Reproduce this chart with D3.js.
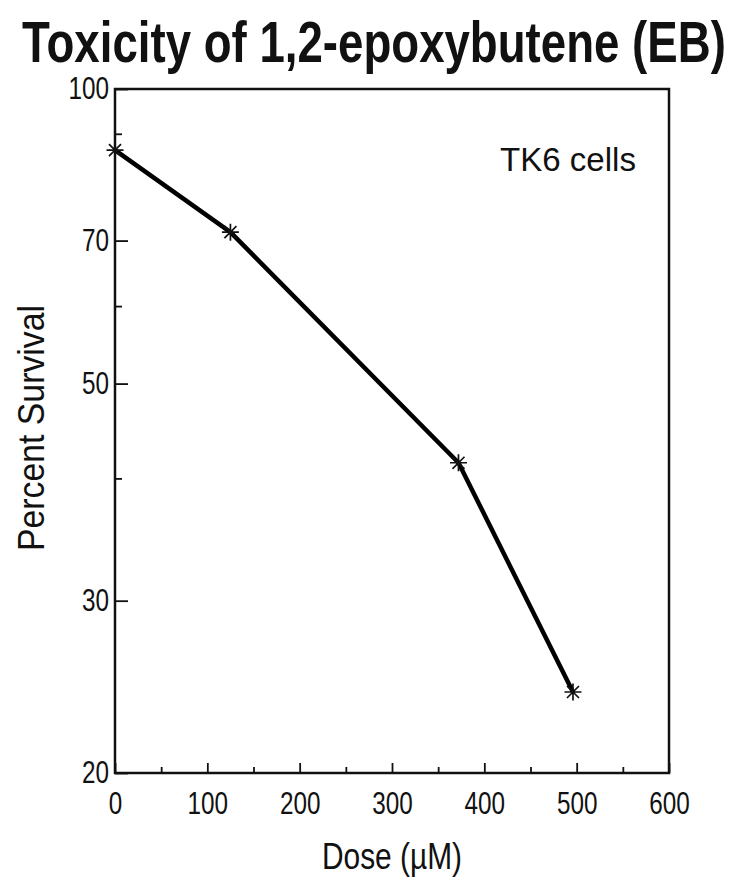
<!DOCTYPE html>
<html>
<head>
<meta charset="utf-8">
<script src="https://cdn.jsdelivr.net/npm/d3@7"></script>
<style>
  html, body { margin: 0; padding: 0; background: #fff; }
  svg { display: block; }
  .lbl { font-family: 'Liberation Sans', Arial, sans-serif; fill: #111; }
</style>
</head>
<body>
<svg id="chart" width="746" height="892"></svg>
<script>
const doses = [0, 125, 372, 496]
const survival = [86.6, 71.4, 41.5, 24.2]

const xTicks = [0, 100, 200, 300, 400, 500, 600]
const xMinorTicks = [50, 150, 250, 350, 450, 550]
const yTicks = [20, 30, 50, 70, 100]
const yMinorTicks = [40, 60, 90]

const svg = d3.select('#chart')
const plotLeft = 115
const plotRight = 669
const plotTop = 89
const plotBottom = 773

const x = d3.scaleLinear().domain([0, 600]).range([plotLeft, plotRight])
const y = d3.scaleLog().domain([20, 100]).range([plotBottom, plotTop])

// condensed look: squeeze each label to a fixed width per character
const squeeze = (sel, perChar) => sel
  .attr('textLength', function () { return this.textContent.length * perChar })
  .attr('lengthAdjust', 'spacingAndGlyphs')

// title, narrowed with a horizontal scale so its box stays inside the page
const title = svg.append('text')
  .attr('class', 'lbl')
  .attr('font-size', 58)
  .attr('font-weight', 'bold')
  .text('Toxicity of 1,2-epoxybutene (EB)')
const titleW = title.node().getComputedTextLength()
title.attr('transform', `translate(22,62) scale(${704 / titleW},1)`)

// frame
svg.append('rect')
  .attr('x', plotLeft)
  .attr('y', plotTop)
  .attr('width', plotRight - plotLeft)
  .attr('height', plotBottom - plotTop)
  .attr('fill', 'none')
  .attr('stroke', '#111')
  .attr('stroke-width', 2.5)

// x axis
const xAxis = svg.append('g')
  .attr('transform', `translate(0,${plotBottom})`)
  .call(d3.axisBottom(x).tickValues(xTicks).tickSize(-10).tickPadding(19).tickFormat(d3.format('d')))
xAxis.select('.domain').remove()
xAxis.selectAll('.tick line').attr('stroke', '#111').attr('stroke-width', 1.8)
xAxis.selectAll('.tick text').attr('class', 'lbl').attr('font-size', 31).attr('fill', '#111').call(squeeze, 13.5)

const xMinor = svg.append('g')
  .attr('transform', `translate(0,${plotBottom})`)
  .call(d3.axisBottom(x).tickValues(xMinorTicks).tickSize(-6).tickFormat(''))
xMinor.select('.domain').remove()
xMinor.selectAll('.tick line').attr('stroke', '#111').attr('stroke-width', 1.8)

// y axis
const yAxis = svg.append('g')
  .attr('transform', `translate(${plotLeft},0)`)
  .call(d3.axisLeft(y).tickValues(yTicks).tickSize(-13).tickPadding(6).tickFormat(d3.format('d')))
yAxis.select('.domain').remove()
yAxis.selectAll('.tick line').attr('stroke', '#111').attr('stroke-width', 1.8)
yAxis.selectAll('.tick text').attr('class', 'lbl').attr('font-size', 31).attr('fill', '#111').call(squeeze, 13.5)

const yMinor = svg.append('g')
  .attr('transform', `translate(${plotLeft},0)`)
  .call(d3.axisLeft(y).tickValues(yMinorTicks).tickSize(-7).tickFormat(''))
yMinor.select('.domain').remove()
yMinor.selectAll('.tick line').attr('stroke', '#111').attr('stroke-width', 1.8)

// axis titles
svg.append('text')
  .attr('class', 'lbl')
  .attr('text-anchor', 'middle')
  .attr('font-size', 37)
  .attr('textLength', 246)
  .attr('lengthAdjust', 'spacingAndGlyphs')
  .attr('transform', `translate(44,428) rotate(-90)`)
  .text('Percent Survival')

svg.append('text')
  .attr('class', 'lbl')
  .attr('text-anchor', 'middle')
  .attr('font-size', 37)
  .attr('textLength', 140)
  .attr('lengthAdjust', 'spacingAndGlyphs')
  .attr('x', 392)
  .attr('y', 869)
  .text('Dose (\u00B5M)')

svg.append('text')
  .attr('class', 'lbl')
  .attr('font-size', 34)
  .attr('textLength', 136)
  .attr('lengthAdjust', 'spacingAndGlyphs')
  .attr('x', 500)
  .attr('y', 171)
  .text('TK6 cells')

// data line
const points = doses.map((d, i) => [d, survival[i]])
const line = d3.line().x(d => x(d[0])).y(d => y(d[1]))

svg.append('path')
  .datum(points)
  .attr('d', line)
  .attr('fill', 'none')
  .attr('stroke', '#000')
  .attr('stroke-width', 4.5)
  .attr('stroke-linejoin', 'round')

// eight-armed asterisk markers
const star = {
  draw (ctx, size) {
    const r = Math.sqrt(size) / 2
    const q = r * Math.SQRT1_2
    ctx.moveTo(-r, 0); ctx.lineTo(r, 0)
    ctx.moveTo(0, -r); ctx.lineTo(0, r)
    ctx.moveTo(-q, -q); ctx.lineTo(q, q)
    ctx.moveTo(-q, q); ctx.lineTo(q, -q)
  }
}

svg.append('g')
  .selectAll('path')
  .data(points)
  .join('path')
  .attr('transform', d => `translate(${x(d[0])},${y(d[1])})`)
  .attr('d', d3.symbol().type(star).size(289))
  .attr('fill', 'none')
  .attr('stroke', '#111')
  .attr('stroke-width', 1.7)
</script>
</body>
</html>
